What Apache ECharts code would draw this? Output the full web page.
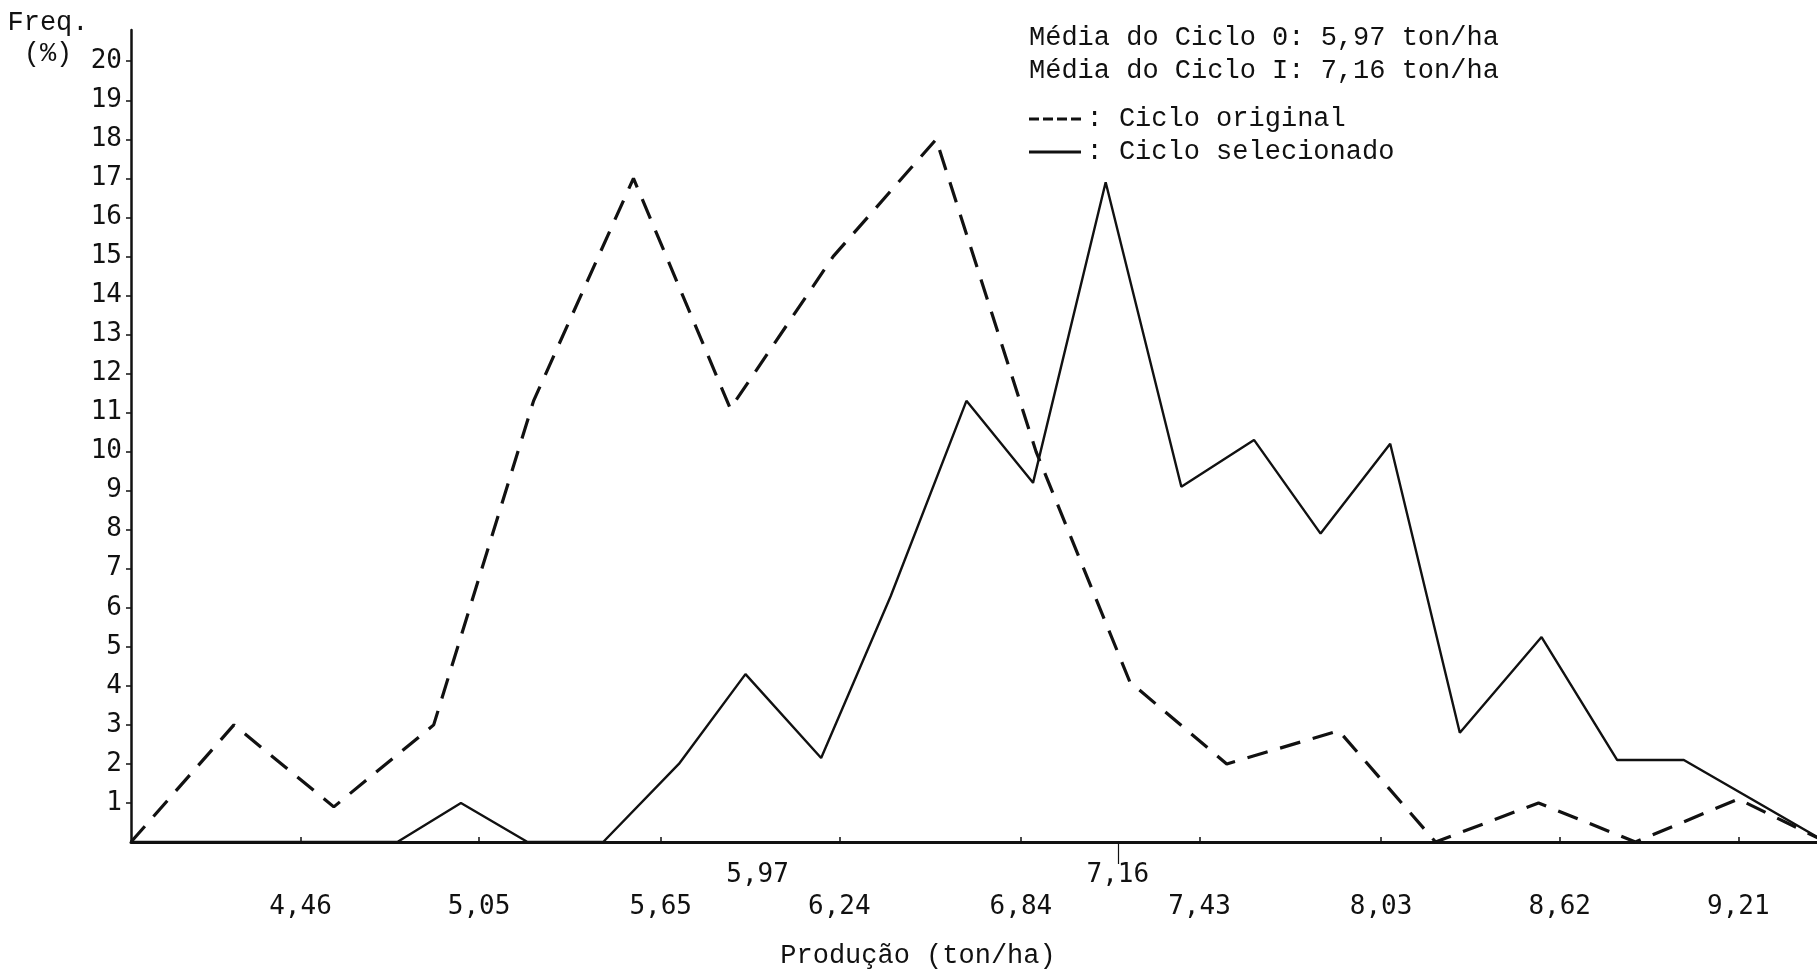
<!DOCTYPE html>
<html>
<head>
<meta charset="utf-8">
<script src="https://cdn.jsdelivr.net/npm/echarts@6/dist/echarts.min.js"></script>
<style>
  html, body { margin: 0; padding: 0; background: #ffffff; }
  #chart { width: 1817px; height: 974px; }
</style>
</head>
<body>
<div id="chart"></div>
<script>
// Distribuição de frequência (%) da produção (ton/ha) nos dois ciclos
const seriesNames = ['Ciclo original', 'Ciclo selecionado'];

// Ciclo 0 (original): pontos médios das classes e frequências
const originalX = [3.90, 4.24, 4.57, 4.90, 5.23, 5.56, 5.88, 6.22, 6.56, 6.89, 7.20, 7.52, 7.89, 8.21, 8.55, 8.87, 9.21, 9.50];
const originalY = [0, 3.0, 0.9, 3.0, 11.3, 17.0, 11.1, 15.0, 18.0, 10.0, 4.1, 2.0, 2.85, 0, 1.0, 0, 1.1, 0];

// Ciclo I (selecionado)
const selectedX = [3.90, 4.78, 4.99, 5.21, 5.46, 5.71, 5.93, 6.18, 6.41, 6.66, 6.88, 7.12, 7.37, 7.61, 7.83, 8.06, 8.29, 8.56, 8.81, 9.03, 9.50];
const selectedY = [0, 0, 1.0, 0, 0, 2.0, 4.3, 2.15, 6.3, 11.3, 9.2, 16.9, 9.1, 10.3, 7.9, 10.2, 2.8, 5.25, 2.1, 2.1, 0];

// Marcas dos eixos
const xTickValues = [4.46, 5.05, 5.65, 6.24, 6.84, 7.43, 8.03, 8.62, 9.21];
const meanValues = [5.97, 7.16];
const meanTickValues = [7.16];
const yTickValues = [1, 2, 3, 4, 5, 6, 7, 8, 9, 10, 11, 12, 13, 14, 15, 16, 17, 18, 19, 20];

const INK = '#111111';
const MONO = 'Liberation Mono';
const DIGITS = 'DejaVu Sans Mono';
const X_MIN = 3.90, X_MAX = 9.47;

// Ícones da legenda: traços datilografados e traço contínuo
const DASH_ICON = 'path://M0,0h10v3h-10z M14,0h10v3h-10z M28,0h10v3h-10z M42,0h10v3h-10z';
const SOLID_ICON = 'path://M0,0h52v3h-52z';

const pairs = (xs, ys) => xs.map((x, i) => [x, ys[i]]);
const comma = v => Number(v).toFixed(2).replace('.', ',');

const chart = echarts.init(document.getElementById('chart'), null, { renderer: 'canvas' });

chart.setOption({
  animation: false,
  backgroundColor: '#ffffff',
  title: [
    {
      text: 'Freq.\n(%)',
      left: 48, top: 7, padding: 0,
      textAlign: 'center',
      textStyle: { fontFamily: MONO, fontSize: 27, fontWeight: 'normal', color: INK, lineHeight: 31 }
    },
    {
      text: 'Média do Ciclo 0: 5,97 ton/ha\nMédia do Ciclo I: 7,16 ton/ha',
      left: 1029, top: 22, padding: 0,
      textStyle: { fontFamily: MONO, fontSize: 27, fontWeight: 'normal', color: INK, lineHeight: 32.5 }
    }
  ],
  legend: {
    orient: 'vertical',
    left: 1029, top: 104, padding: 0,
    itemWidth: 53, itemHeight: 3, itemGap: 3,
    formatter: ': {name}',
    selectedMode: false,
    textStyle: { fontFamily: MONO, fontSize: 27, color: INK, lineHeight: 30 },
    data: [
      { name: seriesNames[0], icon: DASH_ICON, itemStyle: { color: INK } },
      { name: seriesNames[1], icon: SOLID_ICON, itemStyle: { color: INK } }
    ]
  },
  grid: { left: 131, right: 0, top: 30, bottom: 129, containLabel: false },
  xAxis: [
    {
      type: 'value', min: X_MIN, max: X_MAX, position: 'bottom',
      splitLine: { show: false },
      axisLine: { show: true, lineStyle: { color: INK, width: 3 } },
      axisTick: { show: true, customValues: xTickValues, inside: true, length: 5, lineStyle: { color: INK, width: 1.5 } },
      axisLabel: {
        customValues: xTickValues, margin: 52, formatter: comma,
        fontFamily: DIGITS, fontSize: 26, color: INK
      },
      name: 'Produção (ton/ha)',
      nameLocation: 'middle', nameGap: 100,
      nameTextStyle: { fontFamily: MONO, fontSize: 27, color: INK, padding: [0, 112, 0, 0] }
    },
    {
      type: 'value', min: X_MIN, max: X_MAX, position: 'bottom',
      splitLine: { show: false },
      axisLine: { show: false },
      axisTick: { show: true, customValues: meanTickValues, inside: false, length: 22, lineStyle: { color: INK, width: 1.2 } },
      axisLabel: {
        customValues: meanValues, margin: 20, formatter: comma,
        fontFamily: DIGITS, fontSize: 26, color: INK
      }
    }
  ],
  yAxis: {
    type: 'value', min: 0, max: 20.8,
    splitLine: { show: false },
    axisLine: { show: true, lineStyle: { color: INK, width: 2.5 } },
    axisTick: { show: true, customValues: yTickValues, length: 5, lineStyle: { color: INK, width: 1.5 } },
    axisLabel: {
      customValues: yTickValues, margin: 9,
      fontFamily: DIGITS, fontSize: 26, color: INK, padding: [8, 0, 0, 0]
    }
  },
  series: [
    {
      name: seriesNames[0], type: 'line', xAxisIndex: 0,
      data: pairs(originalX, originalY),
      symbol: 'none', clip: true, z: 3,
      itemStyle: { color: INK },
      lineStyle: { color: INK, width: 3.2, type: [21, 13] }
    },
    {
      name: seriesNames[1], type: 'line', xAxisIndex: 0,
      data: pairs(selectedX, selectedY),
      symbol: 'none', clip: true, z: 2,
      itemStyle: { color: INK },
      lineStyle: { color: INK, width: 2.4, type: 'solid' }
    }
  ]
});
</script>
</body>
</html>
